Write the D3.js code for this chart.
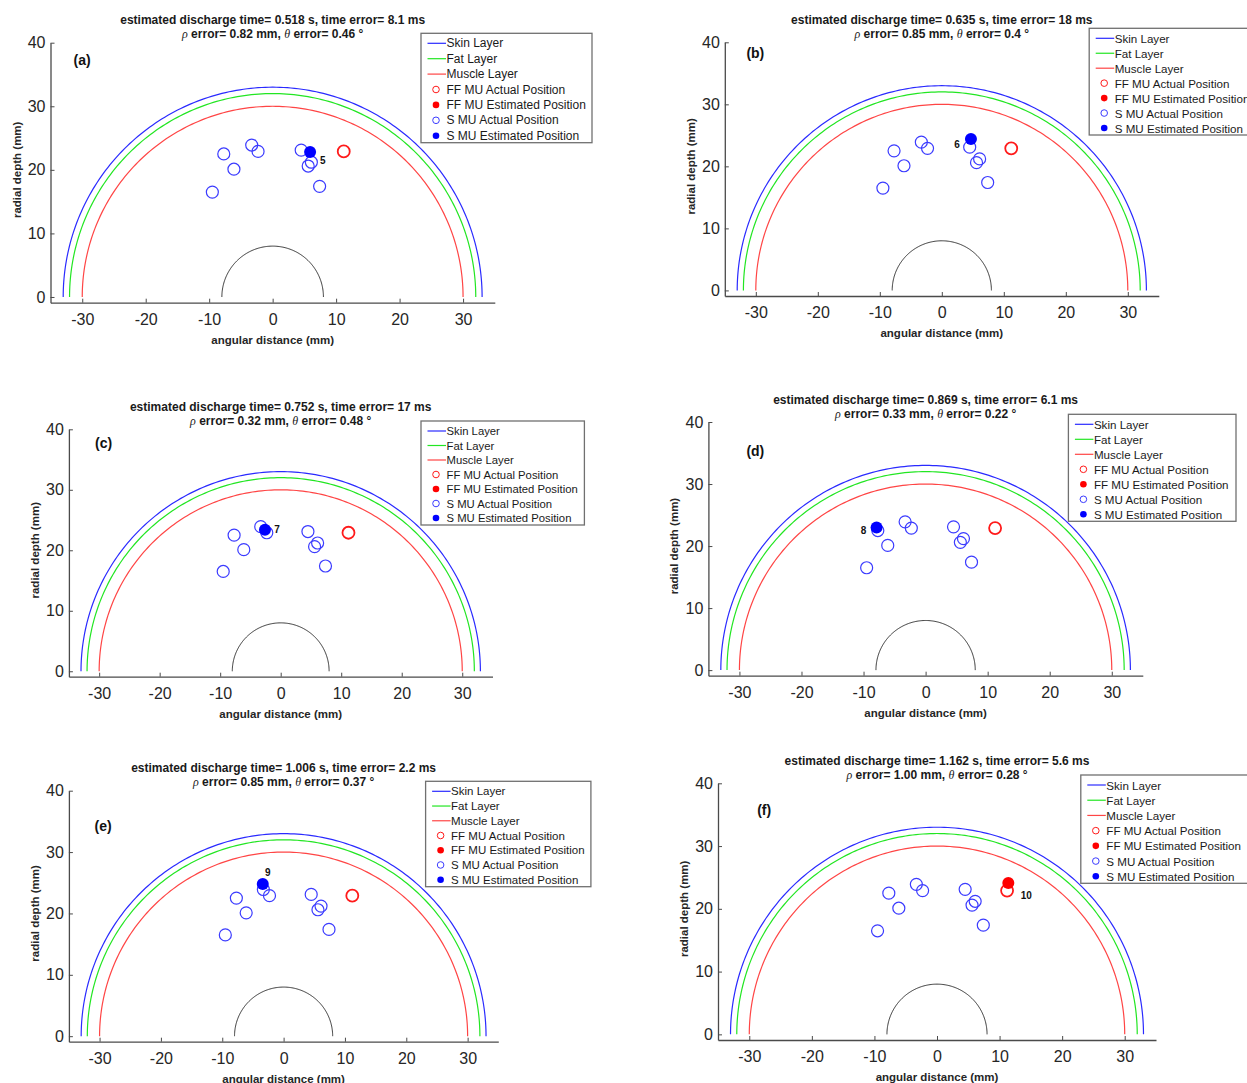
<!DOCTYPE html>
<html><head><meta charset="utf-8">
<script src="https://cdn.jsdelivr.net/npm/d3@7"></script>
<style>
body{margin:0;background:#fff}
svg{display:block}
text{font-family:"Liberation Sans",Arial,Helvetica,sans-serif}
</style>
</head><body>
<svg id="chart" width="1247" height="1083"></svg>
<script>
// ---------------- data ----------------
const panelLetters = ["(a)","(b)","(c)","(d)","(e)","(f)"];
const dischargeTimes = ["0.518","0.635","0.752","0.869","1.006","1.162"];
const timeErrors = ["8.1","18","17","6.1","2.2","5.6"];
const rhoErrors = ["0.82","0.85","0.32","0.33","0.85","1.00"];
const thetaErrors = ["0.46","0.4","0.48","0.22","0.37","0.28"];

const sActualX = [-7.7,-3.3,-2.3,-6.1,-9.5,4.5,5.6,6.1,7.4];
const sActualY = [22.5,23.9,22.9,20.1,16.5,23.1,20.6,21.2,17.4];
const ffActualX = [11.2];
const ffActualY = [22.9];

const estX = [5.9,4.7,-2.6,-7.9,-3.4,11.4];
const estY = [22.8,24.4,23.4,23.0,24.8,24.1];
const estType = ["S","S","S","S","S","FF"];
const estLabel = ["5","6","7","8","9","10"];

const layerNames = ["Skin Layer","Fat Layer","Muscle Layer"];
const layerRadii = [33,32,30];
const boneRadius = 8;
const markerNames = ["FF MU Actual Position","FF MU Estimated Position","S MU Actual Position","S MU Estimated Position"];

const xTicks = [-30,-20,-10,0,10,20,30];
const yTicks = [0,10,20,30,40];
const xDomain = [-35,35];
const yDomain = [-0.9,40];

// ---------------- layout / style ----------------
const layout = [
  {left:50.5, right:494.8, top:42.7, axisY:302.7, lab:[73.5,60], leg:[421,33.3,592,142.7], fs:12, lo:[12.6,8.3]},
  {left:724.8,right:1158.8,top:42.3, axisY:296,   lab:[746.4,53], leg:[1089.2,28.3,1262,135], fs:11.6, lo:[-14,5]},
  {left:68.9, right:492.5, top:429.3,axisY:676.7, lab:[95,443.3], leg:[421,421,584.4,525], fs:11.3, lo:[12,0]},
  {left:708.4,right:1142.8,top:422,  axisY:675.7, lab:[746.4,451], leg:[1068.4,414.3,1236,521.3], fs:11.6, lo:[-13,3]},
  {left:68.9, right:498.3, top:790.7,axisY:1041.7,lab:[94.5,826], leg:[425.6,781.3,590.9,886.7], fs:11.5, lo:[5,-11]},
  {left:718,  right:1156,  top:783.3,axisY:1040,  lab:[757.2,810], leg:[1080.8,775,1262,883.3], fs:11.6, lo:[18,12]}
];
const layerColors = ["#2a2aff","#22e622","#ff4545"];
const sColor = "#3b3bff";
const ffColor = "#ff1a1a";
const axisColor = "#4a4a4a";

const svg = d3.select("#chart");

layout.forEach((L, i) => {
  const x = d3.scaleLinear().domain(xDomain).range([L.left, L.right]);
  const y = d3.scaleLinear().domain(yDomain).range([L.axisY, L.top]);
  const g = svg.append("g");

  // layers (semicircles)
  const angles = d3.range(0, 181).map(d => d * Math.PI / 180);
  const arcLine = r => d3.line()
      .x(a => x(r * Math.cos(a)))
      .y(a => y(r * Math.sin(a)))(angles);
  layerRadii.forEach((r, k) => {
    g.append("path").attr("d", arcLine(r)).attr("fill","none")
      .attr("stroke", layerColors[k]).attr("stroke-width", 1.2);
  });
  g.append("path").attr("d", arcLine(boneRadius)).attr("fill","none")
    .attr("stroke", "#333").attr("stroke-width", 1);

  // axes
  const fmt = d => String(d);
  const ax = g.append("g").attr("transform", `translate(0,${L.axisY})`)
    .call(d3.axisBottom(x).tickValues(xTicks).tickFormat(fmt).tickSizeInner(-4).tickSizeOuter(0).tickPadding(11));
  const ay = g.append("g").attr("transform", `translate(${L.left},0)`)
    .call(d3.axisLeft(y).tickValues(yTicks).tickFormat(fmt).tickSizeInner(-4).tickSizeOuter(0).tickPadding(5));
  [ax, ay].forEach(a => {
    a.select(".domain").attr("stroke", axisColor).attr("stroke-width", 1.3);
    a.selectAll(".tick line").attr("stroke", axisColor).attr("stroke-width", 1);
    a.selectAll(".tick text").attr("fill", "#262626").style("font-size", "16px")
      .style("font-family", '"Liberation Sans",Arial,sans-serif');
  });

  // axis labels
  g.append("text").attr("x", x(0)).attr("y", L.axisY + 41).attr("text-anchor","middle")
    .style("font-size","11.5px").style("font-weight","bold").attr("fill","#262626")
    .text("angular distance (mm)");
  const yc = (y(0) + y(40)) / 2;
  g.append("text").attr("transform", `translate(${L.left - 30},${yc}) rotate(-90)`)
    .attr("text-anchor","middle")
    .style("font-size","11.5px").style("font-weight","bold").attr("fill","#262626")
    .text("radial depth (mm)");

  // title
  g.append("text").attr("x", x(0)).attr("y", L.top - 18.5).attr("text-anchor","middle")
    .style("font-size","12px").style("font-weight","bold").attr("fill","#1a1a1a")
    .text(`estimated discharge time= ${dischargeTimes[i]} s, time error= ${timeErrors[i]} ms`);
  const t2 = g.append("text").attr("x", x(0)).attr("y", L.top - 4.5).attr("text-anchor","middle")
    .style("font-size","12px").style("font-weight","bold").attr("fill","#1a1a1a");
  t2.append("tspan").style("font-family",'"Liberation Serif",serif').style("font-style","italic")
    .style("font-weight","normal").text("\u03C1");
  t2.append("tspan").text(` error= ${rhoErrors[i]} mm, `);
  t2.append("tspan").style("font-family",'"Liberation Serif",serif').style("font-style","italic")
    .style("font-weight","normal").text("\u03B8");
  t2.append("tspan").text(` error= ${thetaErrors[i]} \u00B0`);

  // panel letter
  g.append("text").attr("x", L.lab[0]).attr("y", L.lab[1]).attr("dominant-baseline","central")
    .style("font-size","14px").style("font-weight","bold").attr("fill","#111").text(panelLetters[i]);

  // S MU actual positions
  g.selectAll("circle.s").data(sActualX).join("circle").attr("class","s")
    .attr("cx", (d) => x(d)).attr("cy", (d, j) => y(sActualY[j])).attr("r", 6)
    .attr("fill","none").attr("stroke", sColor).attr("stroke-width", 1.2);
  // FF actual
  g.selectAll("circle.ff").data(ffActualX).join("circle").attr("class","ff")
    .attr("cx", d => x(d)).attr("cy", (d, j) => y(ffActualY[j])).attr("r", 6)
    .attr("fill","none").attr("stroke", ffColor).attr("stroke-width", 1.8);

  // estimated
  const ex = x(estX[i]), ey = y(estY[i]);
  g.append("circle").attr("cx", ex).attr("cy", ey).attr("r", 6)
    .attr("fill", estType[i] === "S" ? "#0000ff" : "#ff0000");
  g.append("text").attr("x", ex + L.lo[0]).attr("y", ey + L.lo[1]).attr("text-anchor","middle")
    .attr("dominant-baseline","central").style("font-size","10px").style("font-weight","bold")
    .attr("fill","#111").text(estLabel[i]);

  // legend
  const [bx1, by1, bx2, by2] = L.leg;
  const lg = svg.append("g");
  lg.append("rect").attr("x", bx1).attr("y", by1).attr("width", bx2 - bx1).attr("height", by2 - by1)
    .attr("fill","#fff").attr("stroke","#707070").attr("stroke-width", 1.3);
  const step = (by2 - by1 - 17) / 6;
  const rowY = k => by1 + 10 + k * step;
  const entries = layerNames.map((n, k) => ({name:n, type:"line", color:layerColors[k]}))
    .concat([
      {name:markerNames[0], type:"open", color:ffColor},
      {name:markerNames[1], type:"fill", color:"#ff0000"},
      {name:markerNames[2], type:"open", color:sColor},
      {name:markerNames[3], type:"fill", color:"#0000ff"}
    ]);
  entries.forEach((e, k) => {
    const yy = rowY(k);
    if (e.type === "line") {
      lg.append("line").attr("x1", bx1 + 6.5).attr("x2", bx1 + 25).attr("y1", yy).attr("y2", yy)
        .attr("stroke", e.color).attr("stroke-width", 1.2);
    } else {
      lg.append("circle").attr("cx", bx1 + 15).attr("cy", yy).attr("r", 3.3)
        .attr("fill", e.type === "fill" ? e.color : "#fff")
        .attr("stroke", e.color).attr("stroke-width", e.type === "fill" ? 0 : 1);
    }
    lg.append("text").attr("x", bx1 + 25.5).attr("y", yy).attr("dominant-baseline","central")
      .style("font-size", L.fs + "px").attr("fill","#1a1a1a").text(e.name);
  });
});
</script>
</body></html>
